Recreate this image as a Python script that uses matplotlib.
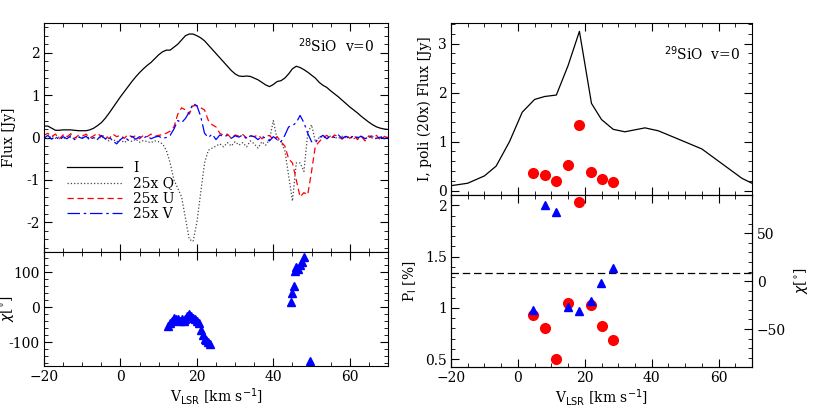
import numpy as np
import matplotlib
matplotlib.use("Agg")
import matplotlib.pyplot as plt
from matplotlib.ticker import MultipleLocator, FormatStrFormatter

plt.rcParams['font.family'] = ['DejaVu Serif']
plt.rcParams['font.size'] = 10

# 28SiO spectra, 1 km/s steps from -20 to 70
vel = np.arange(-20, 71)
flux_i = [0.27, 0.27, 0.22, 0.17, 0.17, 0.18, 0.18, 0.18, 0.17, 0.16, 0.16, 0.16, 0.18, 0.22, 0.28, 0.35,
          0.45, 0.57, 0.70, 0.83, 0.96, 1.08, 1.20, 1.32, 1.43, 1.53, 1.62, 1.70, 1.77, 1.86, 1.95, 2.02,
          2.06, 2.06, 2.13, 2.20, 2.30, 2.40, 2.44, 2.44, 2.40, 2.35, 2.28, 2.18, 2.08, 1.98, 1.88, 1.78,
          1.68, 1.58, 1.50, 1.45, 1.44, 1.45, 1.44, 1.40, 1.36, 1.30, 1.24, 1.20, 1.25, 1.32, 1.34, 1.40,
          1.50, 1.62, 1.68, 1.65, 1.60, 1.54, 1.47, 1.40, 1.30, 1.23, 1.18, 1.10, 1.03, 0.96, 0.88, 0.80,
          0.72, 0.65, 0.58, 0.50, 0.43, 0.36, 0.30, 0.25, 0.22, 0.20, 0.19]
flux_q = [0.02, -0.03, 0.04, -0.02, 0.01, -0.04, 0.03, 0.00, -0.03, 0.02, -0.01, 0.03, -0.02, 0.00, -0.05, 0.02,
          -0.03, -0.08, -0.04, -0.10, -0.05, -0.12, -0.06, -0.09, -0.04, -0.11, -0.07, -0.10, -0.12, -0.08, -0.10, -0.15,
          -0.30, -0.60, -1.00, -1.20, -1.40, -1.90, -2.40, -2.45, -2.00, -1.30, -0.60, -0.30, -0.25, -0.20, -0.15, -0.22,
          -0.12, -0.20, -0.10, -0.18, -0.12, -0.22, -0.08, -0.15, -0.25, -0.10, -0.18, -0.05, 0.40, -0.05, -0.10, -0.30,
          -0.90, -1.50, -0.60, -0.60, -0.80, 0.10, 0.30, -0.10, 0.00, 0.02, -0.03, 0.04, 0.00, -0.02, 0.03, -0.01,
          0.02, -0.03, 0.01, 0.03, -0.02, 0.00, 0.02, -0.04, 0.01, 0.03, 0.00]
flux_u = [0.05, 0.10, 0.02, 0.08, -0.03, 0.06, 0.01, 0.09, -0.02, 0.05, 0.03, 0.08, -0.01, 0.04, 0.10, 0.02,
          0.06, -0.03, 0.08, 0.02, 0.05, -0.02, 0.07, 0.01, 0.04, -0.03, 0.05, 0.02, 0.08, 0.03, 0.05, 0.07,
          0.10, 0.15, 0.25, 0.55, 0.70, 0.65, 0.55, 0.75, 0.75, 0.70, 0.65, 0.40, 0.30, 0.25, 0.10, 0.05,
          0.08, -0.02, 0.06, 0.03, 0.07, -0.01, 0.04, 0.02, 0.06, -0.03, 0.03, 0.05, -0.05, 0.02, -0.10, -0.20,
          -0.50, -0.60, -1.00, -1.40, -1.30, -1.35, -0.80, -0.20, -0.10, 0.00, 0.05, -0.03, 0.06, 0.02, -0.04, 0.05,
          -0.02, 0.06, -0.05, 0.03, -0.08, 0.04, -0.02, 0.05, -0.06, 0.02, 0.00]
flux_v = [-0.02, 0.05, -0.04, 0.03, -0.06, 0.02, -0.03, 0.04, -0.05, 0.01, -0.02, 0.03, -0.06, 0.00, -0.04, 0.05,
          -0.03, 0.02, -0.08, -0.15, -0.05, 0.02, -0.06, 0.03, -0.04, 0.02, -0.02, 0.04, -0.03, 0.01, 0.03, -0.02,
          0.00, 0.05, 0.20, 0.40, 0.35, 0.45, 0.60, 0.80, 0.75, 0.50, 0.10, 0.00, 0.08, -0.05, 0.06, 0.02,
          0.05, -0.02, 0.04, 0.01, 0.06, -0.03, 0.04, 0.02, -0.05, 0.03, -0.02, -0.08, 0.02, -0.05, -0.10, 0.05,
          0.25, 0.28, 0.35, 0.52, 0.35, 0.10, -0.10, -0.12, 0.00, 0.05, -0.03, 0.04, 0.00, 0.06, -0.02, 0.03,
          -0.04, 0.05, -0.01, 0.03, -0.03, 0.02, 0.04, -0.02, 0.01, -0.03, 0.00]

chi28_v = [12.5, 13, 13.5, 14, 14.5, 15, 15.5, 16, 16.5, 17, 17.5, 18, 18.5, 19, 19.5, 20, 20.5, 21, 21.5,
           22, 22.5, 23, 23.5, 44.5, 45, 45.5, 45.7, 46, 46.5, 47, 47.5, 48, 49.5]
chi28 = [-55, -45, -40, -30, -35, -35, -40, -35, -40, -35, -25, -20, -25, -30, -35, -40, -45, -65, -80,
         -90, -95, -100, -105, 15, 40, 60, 105, 115, 110, 120, 130, 145, -155]

# 29SiO
vel29 = [-20, -15, -10, -6.5, -2.5, 1.3, 5, 8, 11.5, 15, 18.4, 22, 25, 28.5, 32, 38, 42, 48, 55, 62, 67, 70]
flux29 = [0.1, 0.15, 0.3, 0.5, 1.0, 1.6, 1.86, 1.92, 1.95, 2.55, 3.25, 1.78, 1.45, 1.25, 1.2, 1.28, 1.22,
          1.05, 0.85, 0.5, 0.25, 0.15]
pts29_v = [4.5, 8, 11.5, 15, 18.4, 21.9, 25, 28.5]
poli29 = [0.35, 0.31, 0.2, 0.53, 1.33, 0.37, 0.24, 0.18]
pl29 = [0.93, 0.8, 0.5, 1.05, 2.03, 1.03, 0.82, 0.69]
chi29 = [-30, 80, 72, -27, -31, -21, -1.5, 14]
pl_mean = 1.34

W, H = 817, 411
fig = plt.figure(figsize=(W / 100, H / 100), dpi=100)
fmt = FormatStrFormatter('%g')


def ax_at(x0, y0, x1, y1):
    return fig.add_axes([x0 / W, 1 - y1 / H, (x1 - x0) / W, (y1 - y0) / H])


def style(ax, right=True):
    ax.tick_params(which='both', direction='in', top=True, right=right, labelsize=10, pad=3)
    ax.tick_params(which='major', length=6)
    ax.tick_params(which='minor', length=3)
    ax.xaxis.set_major_locator(MultipleLocator(20))
    ax.xaxis.set_minor_locator(MultipleLocator(5))
    ax.yaxis.set_major_formatter(fmt)
    ax.set_xlim(-20, 70)


# left top
ax1 = ax_at(44, 23, 388, 252)
ax1.plot(vel, flux_i, color='black', lw=0.9, label='I')
ax1.plot(vel, flux_q, color='#444444', lw=0.9, ls=':', label='25x Q')
ax1.plot(vel, flux_u, color='red', lw=0.9, ls=(0, (5, 3)), label='25x U')
ax1.plot(vel, flux_v, color='blue', lw=0.9, ls=(0, (10, 3, 2, 3)), label='25x V')
ax1.set_ylim(-2.7, 2.7)
ax1.yaxis.set_major_locator(MultipleLocator(1))
ax1.yaxis.set_minor_locator(MultipleLocator(0.2))
ax1.set_ylabel('Flux [Jy]')
ax1.yaxis.set_label_coords(-0.08, 0.5)
ax1.text(0.96, 0.9, r'$^{28}$SiO  v=0', transform=ax1.transAxes, ha='right', va='center')
ax1.legend(loc='lower left', bbox_to_anchor=(0.03, 0.08), frameon=False, handlelength=4, labelspacing=0.1)
style(ax1)
ax1.tick_params(labelbottom=False)

# left bottom
ax2 = ax_at(44, 252, 388, 366)
ax2.plot(chi28_v, chi28, '^', color='blue', ms=6, mec='blue')
ax2.set_ylim(-168, 158)
ax2.yaxis.set_major_locator(MultipleLocator(100))
ax2.yaxis.set_minor_locator(MultipleLocator(20))
ax2.set_ylabel(r'$\chi$[$^{\circ}$]')
ax2.yaxis.set_label_coords(-0.08, 0.5)
ax2.set_xlabel(r'V$_{\rm LSR}$ [km s$^{-1}$]', labelpad=1)
style(ax2)

# right top
ax3 = ax_at(451, 23, 752, 195)
ax3.plot(vel29, flux29, color='black', lw=0.9)
ax3.plot(pts29_v, poli29, 'o', color='red', ms=7)
ax3.set_ylim(-0.09, 3.42)
ax3.yaxis.set_major_locator(MultipleLocator(1))
ax3.yaxis.set_minor_locator(MultipleLocator(0.2))
ax3.set_ylabel('I, poli (20x) Flux [Jy]')
ax3.text(0.96, 0.82, r'$^{29}$SiO  v=0', transform=ax3.transAxes, ha='right', va='center')
style(ax3)
ax3.tick_params(labelbottom=False)

# right bottom
ax4 = ax_at(451, 195, 752, 367)
ax4.plot(pts29_v, pl29, 'o', color='red', ms=7)
ax4.axhline(pl_mean, color='black', ls=(0, (6, 3)), lw=0.9)
ax4.set_ylim(0.425, 2.1)
ax4.yaxis.set_major_locator(MultipleLocator(0.5))
ax4.yaxis.set_minor_locator(MultipleLocator(0.1))
ax4.set_ylabel(r'P$_{\rm l}$ [%]')
ax4.set_xlabel(r'V$_{\rm LSR}$ [km s$^{-1}$]', labelpad=1)
style(ax4, right=False)
ax5 = ax4.twinx()
ax5.plot(pts29_v, chi29, '^', color='blue', ms=6)
ax5.set_ylim(-89.6, 90)
ax5.yaxis.set_major_locator(MultipleLocator(50))
ax5.yaxis.set_minor_locator(MultipleLocator(10))
ax5.tick_params(which='both', direction='in', labelsize=10)
ax5.tick_params(which='major', length=6)
ax5.tick_params(which='minor', length=3)
ax5.set_ylabel(r'$\chi$[$^{\circ}$]')

fig.savefig('out.png', dpi=100)
